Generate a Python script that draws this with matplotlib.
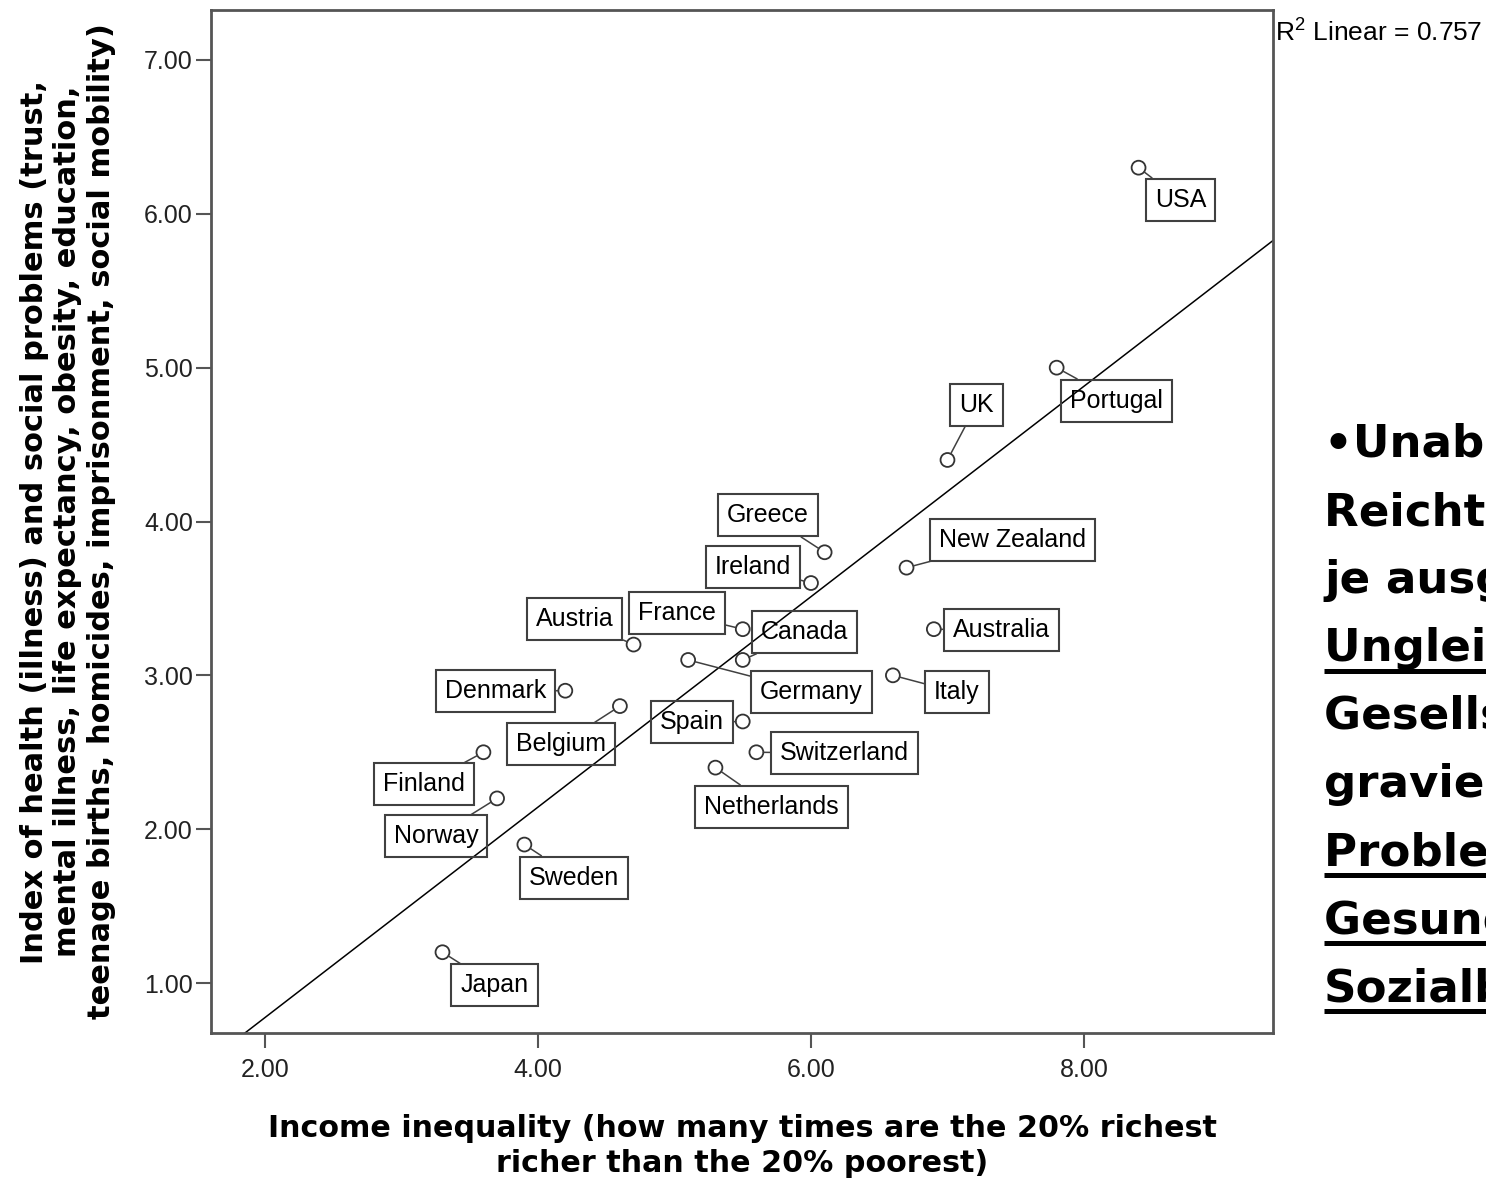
import numpy as np
import matplotlib.pyplot as plt
from matplotlib.lines import Line2D
from matplotlib.ticker import FormatStrFormatter

plt.rcParams['mathtext.fontset'] = 'custom'
plt.rcParams['mathtext.rm'] = 'Liberation Sans'

# Data
countries = ['USA', 'Portugal', 'UK', 'Greece', 'Ireland', 'New Zealand', 'Australia',
             'Italy', 'Canada', 'France', 'Austria', 'Germany', 'Spain', 'Switzerland',
             'Netherlands', 'Denmark', 'Belgium', 'Finland', 'Norway', 'Sweden', 'Japan']
inequality = [8.4, 7.8, 7.0, 6.1, 6.0, 6.7, 6.9,
              6.6, 5.5, 5.5, 4.7, 5.1, 5.5, 5.6,
              5.3, 4.2, 4.6, 3.6, 3.7, 3.9, 3.3]
health_index = [6.3, 5.0, 4.4, 3.8, 3.6, 3.7, 3.3,
                3.0, 3.1, 3.3, 3.2, 3.1, 2.7, 2.5,
                2.4, 2.9, 2.8, 2.5, 2.2, 1.9, 1.2]
x_ticks = [2, 4, 6, 8]
y_ticks = [1, 2, 3, 4, 5, 6, 7]

x_title = 'Income inequality (how many times are the 20% richest\nricher than the 20% poorest)'
y_title = ('Index of health (illness) and social problems (trust,\n'
           'mental illness, life expectancy, obesity, education,\n'
           'teenage births, homicides, imprisonment, social mobility)')

side_lines = ['\u2022Unabh\u00e4ngig vom', 'Reichtum eines Landes:', 'je ausgepr\u00e4gter die',
              'Ungleichheit in einer', 'Gesellschaft, desto', 'gravierender die',
              'Probleme im', 'Gesundheits- und', 'Sozialbereich']
side_underlined = [False, False, False, True, False, False, True, True, True]

# label placement, pixel offsets from the point (right, down)
label_offsets = {
    'USA': (42, 32), 'Portugal': (60, 33), 'UK': (29, -55), 'Greece': (-57, -37),
    'Ireland': (-58, -16), 'New Zealand': (106, -28), 'Australia': (68, 1),
    'Italy': (64, 17), 'Canada': (62, -28), 'France': (-66, -16), 'Austria': (-59, -26),
    'Germany': (123, 32), 'Spain': (-51, 1), 'Switzerland': (88, 1),
    'Netherlands': (56, 39), 'Denmark': (-70, 0), 'Belgium': (-59, 38),
    'Finland': (-59, 32), 'Norway': (-61, 38), 'Sweden': (50, 33), 'Japan': (52, 33),
}

W, H = 1486, 1179
fig = plt.figure(figsize=(W / 100, H / 100), dpi=100)
ax = fig.add_axes([211 / W, (H - 1033) / H, 1062 / W, 1023 / H])

frame_col = '#555555'
ax.set_xlim(1.604, 9.385)
ax.set_ylim(0.675, 7.325)

ax.scatter(inequality, health_index, s=10 ** 2, facecolors='none',
           edgecolors='#333333', linewidths=1.3, zorder=3)

# linear fit
slope, intercept = np.polyfit(inequality, health_index, 1)
r2 = np.corrcoef(inequality, health_index)[0, 1] ** 2
xs = np.array(ax.get_xlim())
ax.plot(xs, slope * xs + intercept, color='black', lw=1.1, zorder=2)

for name, xv, yv in zip(countries, inequality, health_index):
    dx, dy = label_offsets[name]
    ax.annotate(name, (xv, yv), xytext=(dx, -dy), textcoords='offset pixels',
                ha='center', va='center', fontsize=18, family='Liberation Sans',
                bbox=dict(boxstyle='square,pad=0.36', fc='none', ec='#404040', lw=1.5),
                arrowprops=dict(arrowstyle='-', color='#404040', lw=1.1,
                                shrinkA=0, shrinkB=5))

ax.set_xticks(x_ticks)
ax.set_yticks(y_ticks)
ax.xaxis.set_major_formatter(FormatStrFormatter('%.2f'))
ax.yaxis.set_major_formatter(FormatStrFormatter('%.2f'))
for sp in ax.spines.values():
    sp.set_color(frame_col)
    sp.set_linewidth(2)
ax.tick_params(axis='both', length=11, width=1.5, color=frame_col,
               labelsize=18, labelcolor='#222222')
ax.tick_params(axis='x', pad=7)
ax.tick_params(axis='y', pad=2)
for lab in ax.get_xticklabels() + ax.get_yticklabels():
    lab.set_family('Liberation Sans')

ax.set_xlabel(x_title, fontsize=21.7, fontweight='bold', family='DejaVu Sans', linespacing=1.28)
ax.set_ylabel(y_title, fontsize=22, fontweight='bold', family='DejaVu Sans', linespacing=1.2)
ax.xaxis.set_label_coords(0.5, -0.079)
ax.yaxis.set_label_coords(-0.0895, 0.5)

fig.text(1275 / W, 1 - 32 / H, f'R$^{{2}}$ Linear = {r2:.3f}', ha='left', va='center',
         fontsize=19, family='Liberation Sans')

# bold side text running off the right edge
side_texts = []
for i, line in enumerate(side_lines):
    t = fig.text(1324 / W, 1 - (457 + 68 * i) / H, line, ha='left', va='baseline',
                 fontsize=32.5, fontweight='bold', family='DejaVu Sans')
    side_texts.append(t)

fig.canvas.draw()
for t, under in zip(side_texts, side_underlined):
    if not under:
        continue
    bb = t.get_window_extent()
    base = t.get_transform().transform(t.get_position())[1]
    y_line = (base - 10) / H
    fig.add_artist(Line2D([bb.x0 / W, bb.x1 / W], [y_line, y_line], transform=fig.transFigure,
                          color='black', lw=3.6, solid_capstyle='butt'))

fig.savefig('out.png', dpi=100)
